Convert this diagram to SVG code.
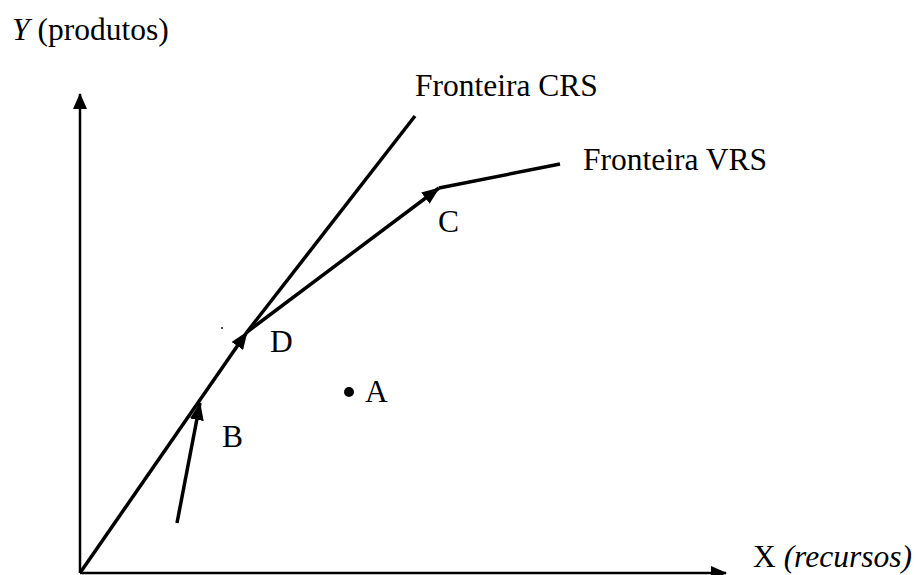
<svg xmlns="http://www.w3.org/2000/svg" width="920" height="575" viewBox="0 0 920 575">
  <style>
    text { font-family: "Liberation Serif", "Times New Roman", "DejaVu Serif", serif; font-size: 31.5px; fill: #000; }
    .i { font-style: italic; }
    .ax { stroke: #000; stroke-width: 2.5; fill: none; }
    .ln { stroke: #000; stroke-width: 3.5; fill: none; stroke-linecap: butt; }
  </style>
  <defs>
    <marker id="arr" viewBox="0 0 18 14" refX="17" refY="7" markerWidth="18" markerHeight="14" markerUnits="userSpaceOnUse" orient="auto">
      <path d="M0,0 L18,7 L0,14 z" fill="#000"/>
    </marker>
    <marker id="axarr" viewBox="0 0 16 14" refX="15" refY="7" markerWidth="16" markerHeight="14" markerUnits="userSpaceOnUse" orient="auto">
      <path d="M0,0 L16,7 L0,14 z" fill="#000"/>
    </marker>
  </defs>
  <rect width="920" height="575" fill="#fff"/>

  <g id="connectors">
    <line class="ax" x1="80" y1="573" x2="80" y2="94" marker-end="url(#axarr)"/>
    <line class="ax" x1="80" y1="573" x2="726" y2="573" marker-end="url(#axarr)"/>
    <line class="ln" x1="80" y1="573" x2="247" y2="332" marker-end="url(#arr)"/>
    <line class="ln" x1="247" y1="332" x2="415" y2="116"/>
    <line class="ln" x1="247" y1="332" x2="439" y2="188" marker-end="url(#arr)"/>
    <line class="ln" x1="439" y1="188" x2="560" y2="164"/>
    <line class="ln" x1="177" y1="523" x2="200" y2="403" marker-end="url(#arr)"/>
  </g>

  <g id="axis-y-label"><text x="12" y="40" font-family="Liberation Serif, serif"><tspan class="i">Y</tspan> (produtos)</text></g>
  <g id="axis-x-label"><text x="753" y="567" font-family="Liberation Serif, serif">X <tspan class="i">(recursos)</tspan></text></g>
  <g id="crs-label"><text x="415" y="96" font-family="Liberation Serif, serif">Fronteira CRS</text></g>
  <g id="vrs-label"><text x="583" y="170" font-family="Liberation Serif, serif">Fronteira VRS</text></g>
  <g id="point-A">
    <circle cx="349" cy="392" r="5" fill="#000"/>
    <text x="365" y="402" font-family="Liberation Serif, serif">A</text>
  </g>
  <g id="point-B"><text x="222" y="447" font-family="Liberation Serif, serif">B</text></g>
  <g id="point-C"><text x="438" y="232" font-family="Liberation Serif, serif">C</text></g>
  <g id="point-D"><text x="270" y="352" font-family="Liberation Serif, serif">D</text></g>
  <circle cx="222" cy="328" r="0.9" fill="#000"/>
</svg>
